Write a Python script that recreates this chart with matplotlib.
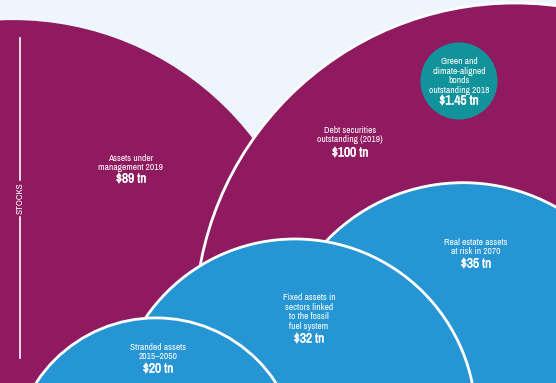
import numpy as np
import matplotlib
matplotlib.use("Agg")
import matplotlib.pyplot as plt
import matplotlib.font_manager as fm
import matplotlib.patheffects as pe
from matplotlib.patches import Circle

# values in $ trillion; circle area is proportional to the value
labels = [
    "Assets under\nmanagement 2019",
    "Debt securities\noutstanding (2019)",
    "Green and\nclimate-aligned\nbonds\noutstanding 2018",
    "Real estate assets\nat risk in 2070",
    "Fixed assets in\nsectors linked\nto the fossil\nfuel system",
    "Stranded assets\n2015\u20132050",
]
values = [89, 100, 1.45, 35, 32, 20]
value_text = ["$89 tn", "$100 tn", "$1.45 tn", "$35 tn", "$32 tn", "$20 tn"]

# layout (pixel space of the 556x383 canvas)
centers = [(13, 322), (515, 323), (459, 81), (463, 372), (295, 420), (156, 461)]
label_pos = [(131, 163), (350, 135), (459, 76), (476, 247), (309, 312), (158, 352)]
value_pos = [(131, 179), (350, 153), (459, 101), (476, 264), (309, 339), (158, 369)]
colors = ["#8f1a5f", "#8f1a5f", "#12939b", "#2595d3", "#2595d3", "#2595d3"]
outlined = [False, True, False, True, True, True]
scale = 32.0  # px per sqrt($tn)

bg = "#eef5fc"

# pick a narrow face if one is installed
family, lsize, vsize = "Roboto", 5.8, 8.0
for f in fm.fontManager.ttflist:
    if "Narrow" in f.name or "Condensed" in f.name:
        family, lsize, vsize = f.name, 6.8, 9.6
        break

thick = [pe.withStroke(linewidth=0.3, foreground="white")]

fig = plt.figure(figsize=(5.56, 3.83), dpi=100, facecolor=bg)
ax = fig.add_axes([0, 0, 1, 1])
ax.set_facecolor(bg)
ax.set_xlim(0, 556)
ax.set_ylim(383, 0)
ax.set_aspect("equal")
ax.axis("off")

for i, v in enumerate(values):
    r = scale * np.sqrt(v)
    ax.add_patch(Circle(centers[i], r, facecolor=colors[i],
                        edgecolor="white" if outlined[i] else "none",
                        linewidth=2.0 if outlined[i] else 0, zorder=i + 1))
    ax.text(label_pos[i][0], label_pos[i][1], labels[i], ha="center", va="center",
            color="white", fontsize=lsize, family=family, linespacing=1.05,
            zorder=20)
    ax.text(value_pos[i][0], value_pos[i][1], value_text[i], ha="center", va="center",
            color="white", fontsize=vsize, fontweight="bold", family=family,
            path_effects=thick, zorder=20)

# side label
ax.plot([20, 20], [38, 180], color="white", lw=1.2, zorder=20)
ax.plot([20, 20], [217, 358], color="white", lw=1.2, zorder=20)
ax.text(20, 198, "STOCKS", rotation=90, ha="center", va="center", color="white",
        fontsize=lsize, fontweight="bold", family=family, zorder=20)

fig.savefig("out.png", dpi=100, facecolor=bg)
